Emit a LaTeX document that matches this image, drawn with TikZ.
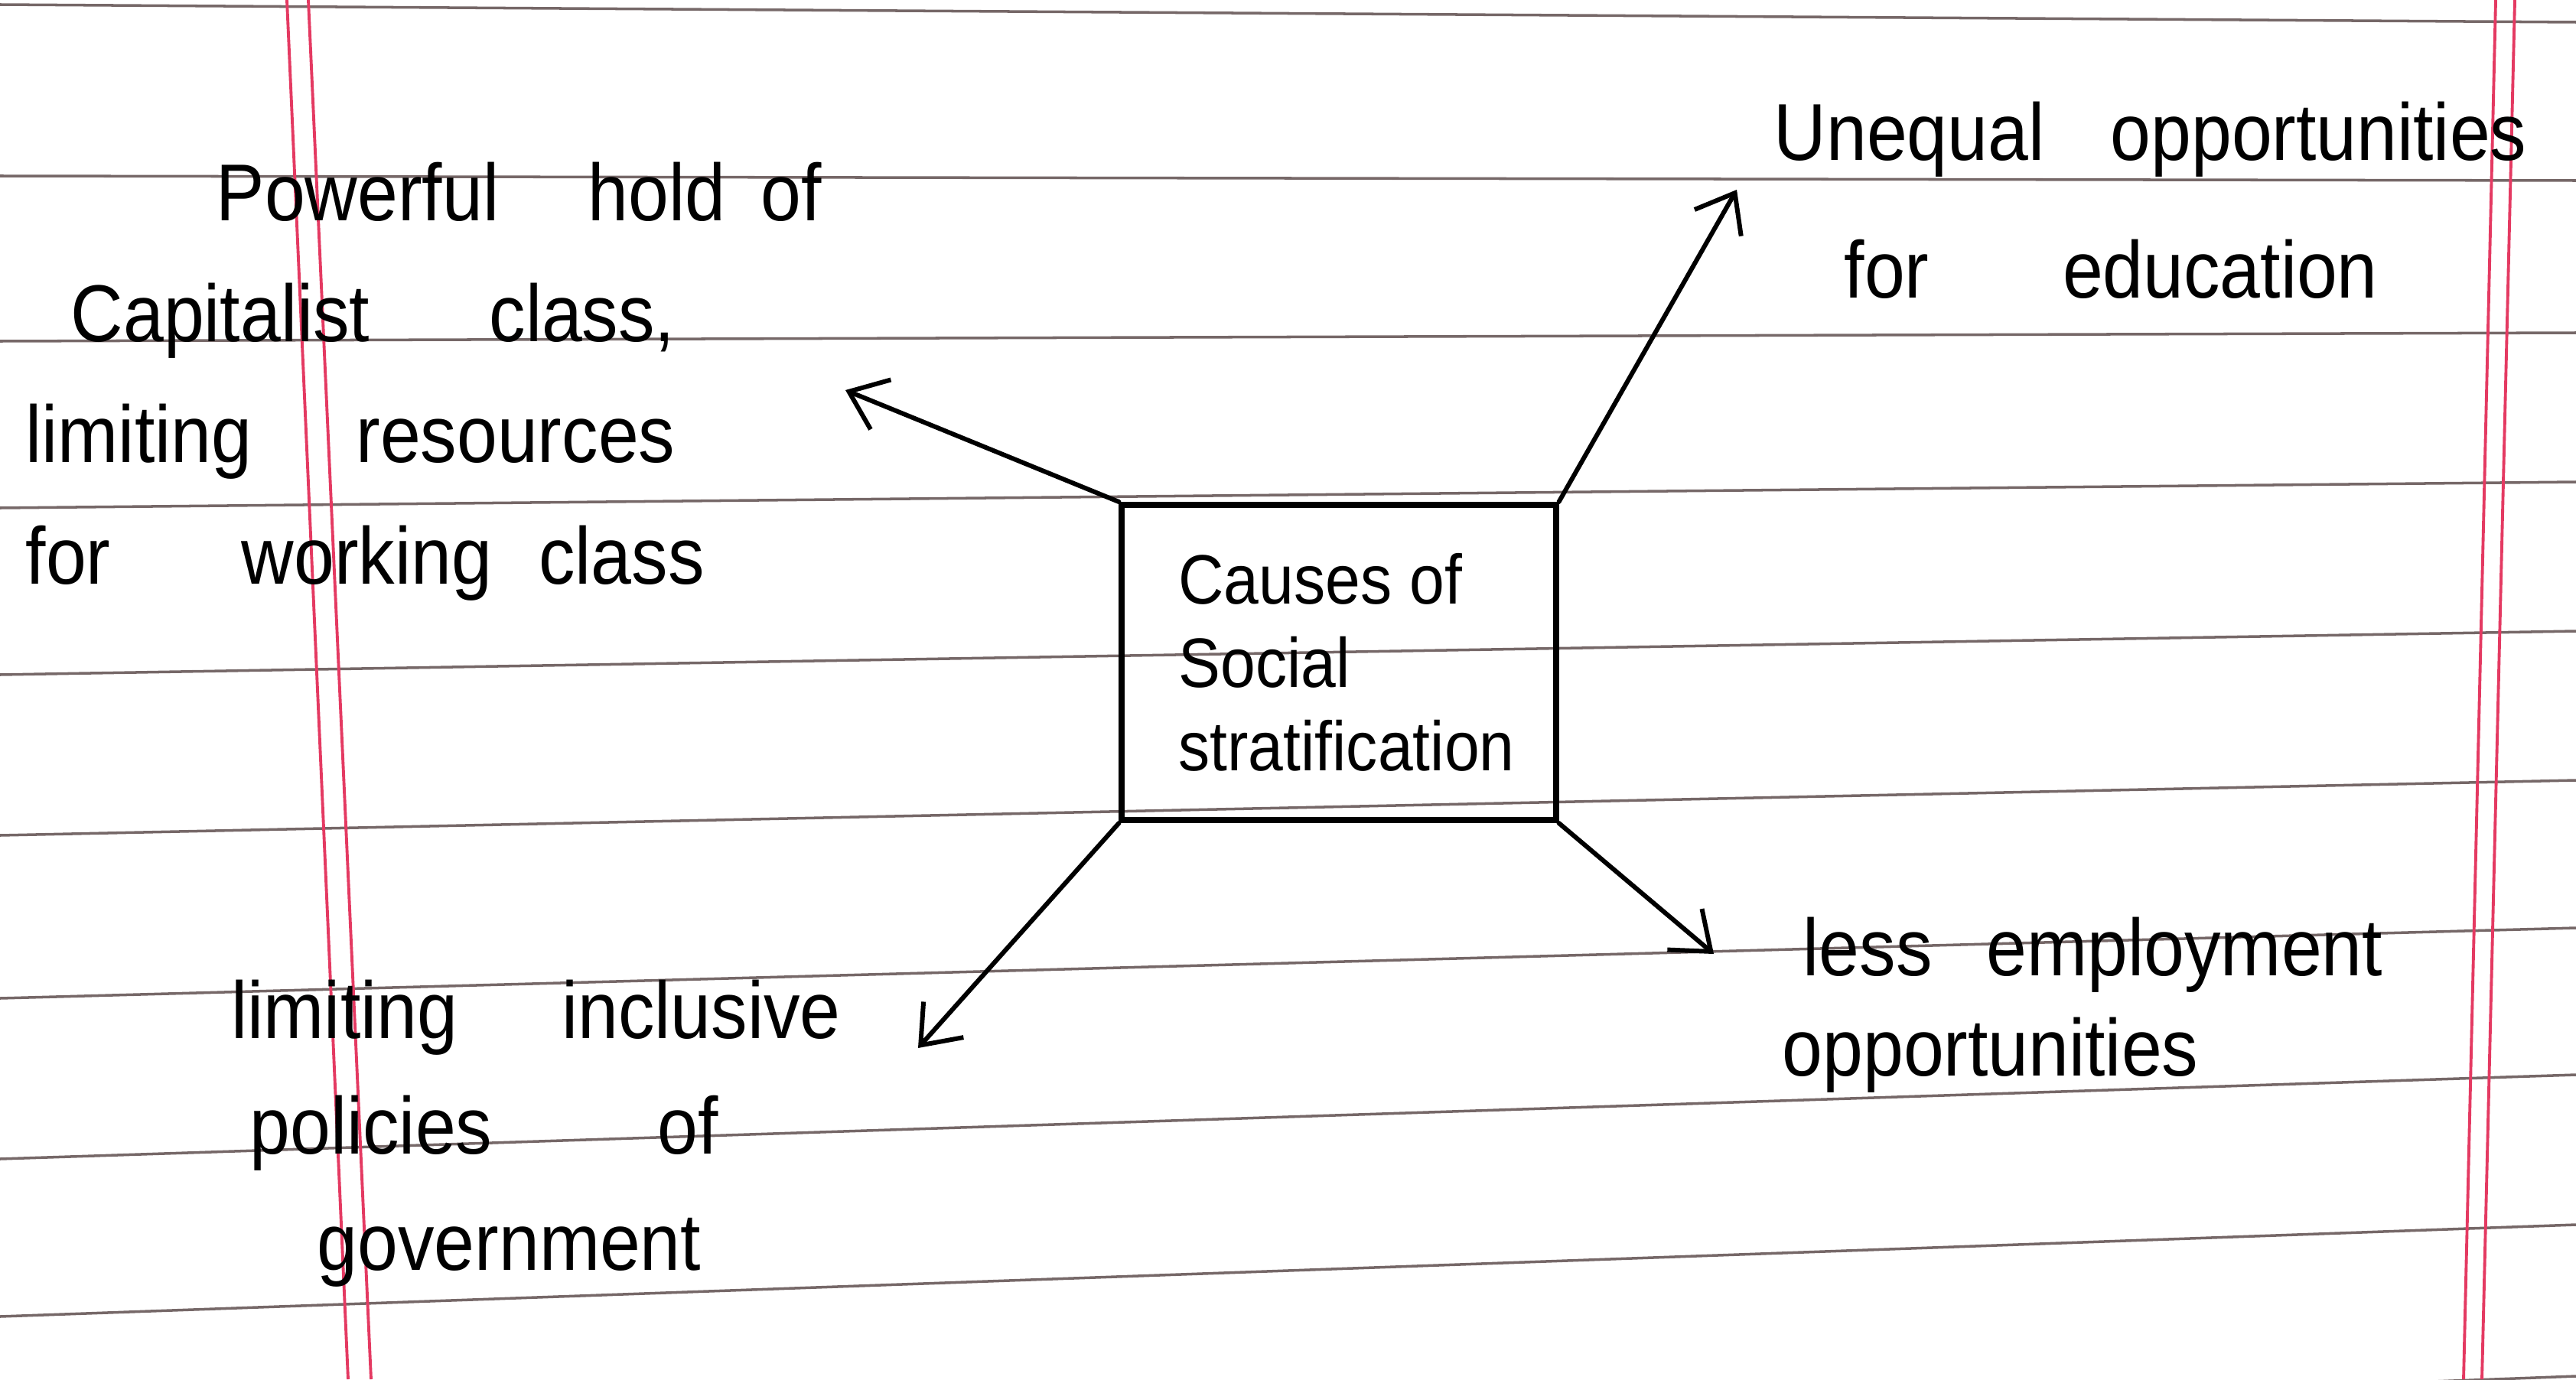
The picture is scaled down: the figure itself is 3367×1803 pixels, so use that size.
\documentclass[tikz,border=0pt]{standalone}
\usepackage{fontspec}
\setmainfont{Liberation Sans}[FakeStretch=0.9]
\usetikzlibrary{arrows.meta}
\definecolor{ruling}{RGB}{118,104,104}
\definecolor{margin}{RGB}{228,58,98}
\begin{document}
\begin{tikzpicture}[x=0.01cm,y=-0.01cm,
  note/.style={align=left,anchor=base west,inner sep=0pt,font=\fontsize{30}{#1}\selectfont},
  pointer/.style={-{Straight Barb[length=4.5mm,width=7mm]},line width=1.7pt,line cap=round}]
\useasboundingbox (0,0) rectangle (3367,1803);
\foreach \yl/\yr in {6/29,230/236,446/435,664/630,882/825,1092/1020,1305/1213,1515/1405,1721/1601,1925/1799}
  \draw[ruling,line width=1pt](0,\yl)--(3367,\yr);
\draw[margin,line width=1.1pt](375,0)--(455,1803) (403,0)--(485,1803);
\draw[margin,line width=1.1pt](3262,0)--(3220,1803) (3287,0)--(3244,1803);
\node[draw,line width=2.2pt,minimum width=5.67cm,minimum height=4.12cm,align=left,font=\fontsize{26}{31}\selectfont](cause) at (1750,866){\hspace*{0.2cm}Causes of\\\hspace*{0.2cm}Social\\\hspace*{0.2cm}stratification};
\node[note=45](capital) at (33,763){\hspace*{2.49cm}Powerful\hspace{0.9cm} hold\hspace{0.2cm} of\\\hspace*{0.59cm}Capitalist\hspace{1.3cm} class,\\limiting\hspace{1.1cm} resources\\for\hspace{1.45cm} working\hspace{0.35cm} class};
\node[note=51](edu) at (2318,389){Unequal\hspace{0.6cm} opportunities\\\hspace*{0.92cm}for\hspace{1.48cm} education};
\node[note=37](jobs) at (2329,1406){\hspace*{0.27cm}less\hspace{0.45cm} employment\\opportunities};
\node[note=43](policy) at (302,1660){limiting\hspace{1.1cm} inclusive\\\hspace*{0.24cm}policies\hspace{1.9cm} of\\\hspace*{1.12cm}government};
\coordinate (capitalTip) at (1105,510);
\coordinate (eduTip) at (2270,248);
\coordinate (jobsTip) at (2240,1247);
\coordinate (policyTip) at (1200,1370);
\draw[pointer](cause.north west)--(capitalTip);
\draw[pointer](cause.north east)--(eduTip);
\draw[pointer](cause.south east)--(jobsTip);
\draw[pointer](cause.south west)--(policyTip);
\end{tikzpicture}
\end{document}
